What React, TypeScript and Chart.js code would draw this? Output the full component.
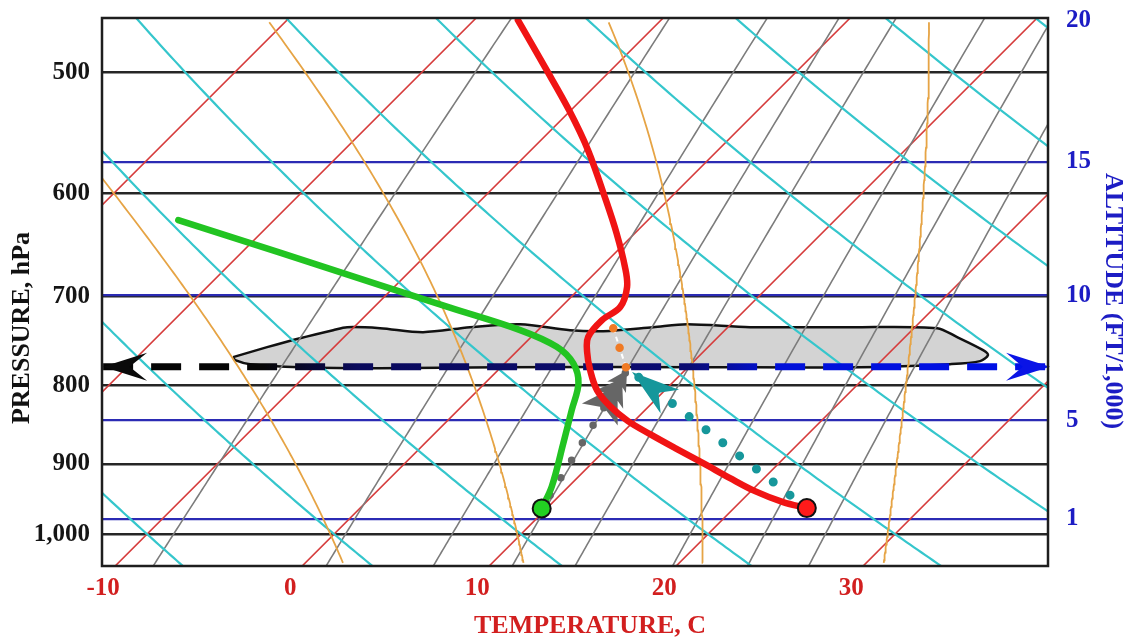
import React, { useEffect, useRef } from 'react';
import { Chart, registerables } from 'chart.js';

Chart.register(...registerables);

// ---------- axis frame ----------
const P_TOP = 461; // hPa at top of plot
const P_BOTTOM = 1049; // hPa at bottom of plot
const SKEW = 35.64; // isotherm skew, deg C per ln(p) unit
const X_MIN = -12.41; // skewed temperature at left edge
const X_MAX = 38.18; // skewed temperature at right edge

const pressureTicks = [500, 600, 700, 800, 900, 1000];
const pressureTickLabels = ['500', '600', '700', '800', '900', '1,000'];
const altitudeTicks = [1, 5, 10, 15, 20];
const altitudePressures = [977, 843, 699, 572, 463];
const temperatureTicks = [-10, 0, 10, 20, 30];

// ---------- background line families ----------
const isotherms = [-40, -30, -20, -10, 0, 10, 20, 30, 40];
const dryAdiabats = [-10, 0, 10, 20, 30, 40, 50, 60, 70, 80];
const moistAdiabats = [-0.2, 9.8, 19.7, 29.6];
const mixingRatios = [2, 4, 6, 8, 10, 14, 18, 22];

// ---------- sounding ----------
const tempP = [961.7, 953.1, 937.5, 919.4, 899.0, 878.9, 860.7, 844.1, 825.3, 805.7, 781.8, 761.0, 744.1, 725.4, 711.3, 690.3, 669.9, 636.6, 605.9, 562.1, 529.3, 496.3, 462.5];
const tempT = [23.89, 22.3, 20.21, 18.18, 15.94, 13.64, 11.55, 9.68, 7.91, 6.36, 4.92, 3.8, 3.05, 2.89, 3.16, 2.46, 1.28, -0.99, -3.32, -6.95, -10.11, -13.69, -17.65];
const dewP = [962.2, 931.5, 872.8, 830.3, 797.6, 774.1, 755.0, 736.3, 711.9, 688.3, 655.6, 624.3];
const dewT = [9.73, 9.11, 7.41, 6.08, 5.01, 3.67, 1.89, -0.96, -5.91, -10.86, -17.94, -25.12];

// ---------- parcel paths ----------
const dryParcelP = [943.2, 784.2];
const dryParcelT = [22.3, 7.27];
const moistureParcelP = [943.2, 781.9];
const moistureParcelT = [9.47, 6.9];
const saturatedParcelP = [778.4, 733.1];
const saturatedParcelT = [6.68, 3.85];

// ---------- cloud layer & base level ----------
const cloudBaseP = 778;
const cloudBaseX = [-12.35, 38.29];
const cloudX = [-5.4, -3.58, -1.82, -0.05, 0.7, 2.46, 4.76, 7.27, 9.95, 12.62, 14.39, 17.06, 18.88, 22.25, 27.59, 32.25, 33.32, 34.71, 34.97, 34.55, 32.94, 28.13, 19.57, 8.88, 2.46, -1.82, -4.49, -5.29];
const cloudP = [766.8, 755.4, 745.3, 736.4, 733.1, 734.2, 738.6, 733.1, 729.8, 736.4, 737.5, 733.1, 729.8, 733.1, 733.1, 734.2, 744.1, 758.8, 764.5, 771.4, 774.9, 778.4, 778.4, 778.4, 779.6, 778.4, 774.9, 770.2];

const FONT = '"Liberation Serif", "Times New Roman", serif';

function skewX(T: number, p: number) {
  return T + SKEW * Math.log(1000 / p);
}
const pt = (T: number, p: number) => ({ x: skewX(T, p), y: p });

function satVap(Tc: number) {
  return 6.112 * Math.exp((17.67 * Tc) / (Tc + 243.5));
}
function moistLapse(p: number, TK: number) {
  const Rd = 287.04, Cp = 1005.7, Lv = 2.501e6, eps = 0.622;
  const e = satVap(TK - 273.15);
  const rs = (eps * e) / (p - e);
  return ((Rd * TK + Lv * rs) / p) / (Cp + (Lv * Lv * rs * eps) / (Rd * TK * TK));
}
function integrateMoist(thetaW: number, pEnd: number) {
  const out: { p: number; T: number }[] = [];
  let p = 1000;
  let T = thetaW + 273.15;
  const h = pEnd < 1000 ? -2 : 2;
  out.push({ p, T });
  while ((h < 0 && p > pEnd) || (h > 0 && p < pEnd)) {
    const k1 = moistLapse(p, T);
    const k2 = moistLapse(p + h / 2, T + (h / 2) * k1);
    const k3 = moistLapse(p + h / 2, T + (h / 2) * k2);
    const k4 = moistLapse(p + h, T + h * k3);
    T += (h / 6) * (k1 + 2 * k2 + 2 * k3 + k4);
    p += h;
    out.push({ p, T });
  }
  return out;
}

type ArrowSpec = { at: 'start' | 'end'; color: string; shape: [number, number][] };
const notched = (len: number, hw: number, notch: number): [number, number][] => [
  [0, 0], [len, hw], [len * notch, 0], [len, -hw],
];
const barbed: [number, number][] = [
  [0, 0], [20, 11], [17, 5], [35, 17], [31, 8], [52, 21], [44, 0],
  [52, -21], [31, -8], [35, -17], [17, -5], [20, -11],
];
const ARROWS: Record<string, ArrowSpec[]> = {
  baseLine: [
    { at: 'start', color: '#0a0a0a', shape: notched(44, 14, 0.6) },
    { at: 'end', color: '#0a14e6', shape: notched(44, 14, 0.62) },
  ],
  dryParcel: [{ at: 'end', color: '#16979b', shape: notched(48, 15, 0.7) }],
  moistureParcel: [{ at: 'end', color: '#666666', shape: barbed }],
};

const overlayPlugin = {
  id: 'overlay',
  afterDatasetDraw(chart: any, args: any) {
    const ds = chart.data.datasets[args.index];
    const specs = ARROWS[ds.label];
    if (!specs) return;
    const pts = args.meta.data;
    if (pts.length < 2) return;
    const ctx = chart.ctx as CanvasRenderingContext2D;
    ctx.save();
    specs.forEach((s) => {
      const tip = s.at === 'start' ? pts[0] : pts[pts.length - 1];
      const from = s.at === 'start' ? pts[1] : pts[pts.length - 2];
      let ux = from.x - tip.x, uy = from.y - tip.y;
      const d = Math.hypot(ux, uy) || 1;
      ux /= d; uy /= d;
      const nx = -uy, ny = ux;
      ctx.beginPath();
      s.shape.forEach(([a, b], k) => {
        const px = tip.x + ux * a + nx * b;
        const py = tip.y + uy * a + ny * b;
        if (k === 0) ctx.moveTo(px, py); else ctx.lineTo(px, py);
      });
      ctx.closePath();
      ctx.fillStyle = s.color;
      ctx.fill();
    });
    ctx.restore();
  },
  afterDatasetsDraw(chart: any) {
    const ctx = chart.ctx as CanvasRenderingContext2D;
    const a = chart.chartArea;
    ctx.save();
    ctx.strokeStyle = '#1e1e1e';
    ctx.lineWidth = 2.5;
    ctx.strokeRect(a.left, a.top, a.right - a.left, a.bottom - a.top);
    ctx.restore();
  },
  afterDraw(chart: any) {
    const ctx = chart.ctx as CanvasRenderingContext2D;
    const titles: [string, number, number, number, string][] = [
      ['PRESSURE, hPa', 22, 328, -Math.PI / 2, '#121212'],
      ['ALTITUDE (FT/1,000)', 1113, 301, Math.PI / 2, '#1c1cc4'],
      ['TEMPERATURE, C', 590, 626, 0, '#d21f1f'],
    ];
    titles.forEach(([text, x, y, rot, color]) => {
      ctx.save();
      ctx.font = `bold 26px ${FONT}`;
      ctx.textAlign = 'center';
      ctx.textBaseline = 'middle';
      ctx.fillStyle = color;
      ctx.translate(x, y);
      ctx.rotate(rot);
      ctx.fillText(text, 0, 0);
      ctx.restore();
    });
  },
};

const zeroPadding = (s: any) => {
  s.paddingTop = 0;
  s.paddingBottom = 0;
  s.paddingLeft = 0;
  s.paddingRight = 0;
};

export default function App() {
  const ref = useRef<HTMLCanvasElement>(null);
  useEffect(() => {
    const sampleLevels: number[] = [];
    for (let p = 1052; p >= 456; p -= 4) sampleLevels.push(p);

    const lineDs = (label: string, data: any[], color: any, width: number, extra: any = {}) => ({
      label, data, borderColor: color, borderWidth: width, pointRadius: 0, fill: false, tension: 0, ...extra,
    });

    const list: any[] = [];
    const cloudData = cloudX.map((x, i) => ({ x, y: cloudP[i] }));
    cloudData.push({ ...cloudData[0] });
    list.push(lineDs('cloud', cloudData, '#111111', 2.5, { fill: 'shape', backgroundColor: '#d3d3d3', tension: 0.3 }));
    isotherms.forEach((T) => list.push(lineDs('isotherm', [pt(T, 1052), pt(T, 456)], '#d63c3c', 1.6)));
    mixingRatios.forEach((w) =>
      list.push(lineDs('mixing', sampleLevels.map((p) => {
        const e = (w * p) / (622 + w);
        const l = Math.log(e / 6.112);
        return pt((243.5 * l) / (17.67 - l), p);
      }), '#7c7c7c', 1.6)));
    dryAdiabats.forEach((th) =>
      list.push(lineDs('dry', sampleLevels.map((p) => pt((th + 273.15) * Math.pow(p / 1000, 0.2857) - 273.15, p)), '#35c6cc', 2.2)));
    moistAdiabats.forEach((tw) => {
      const down = integrateMoist(tw, 1044).reverse();
      const up = integrateMoist(tw, 463).slice(1);
      const data = [...down, ...up].filter((_, i) => i % 2 === 0).map((q) => pt(q.T - 273.15, q.p));
      list.push(lineDs('moist', data, '#e6a445', 1.8));
    });
    list.push(lineDs('baseLine', cloudBaseX.map((x) => ({ x, y: cloudBaseP })), (c: any) => {
      const ch = c.chart;
      const a = ch.chartArea;
      if (!a) return '#000';
      const g = ch.ctx.createLinearGradient(a.left, 0, a.right, 0);
      g.addColorStop(0, '#050505');
      g.addColorStop(0.17, '#050505');
      g.addColorStop(0.27, '#0a0a5c');
      g.addColorStop(0.62, '#0c0c72');
      g.addColorStop(0.71, '#0010d8');
      g.addColorStop(1, '#0010e8');
      return g;
    }, 7, { borderDash: [30, 18] }));
    list.push(lineDs('dryParcel', dryParcelP.map((p, i) => pt(dryParcelT[i], p)), '#16979b', 9, { borderDash: [0, 21.3], borderCapStyle: 'round' }));
    list.push(lineDs('moistureParcel', moistureParcelP.map((p, i) => pt(moistureParcelT[i], p)), '#666666', 7.5, { borderDash: [0, 20.5], borderCapStyle: 'round' }));
    list.push(lineDs('satLine', saturatedParcelP.map((p, i) => pt(saturatedParcelT[i], p)), '#ffffff', 2, { borderDash: [5, 4] }));
    list.push(lineDs('satParcel', saturatedParcelP.map((p, i) => pt(saturatedParcelT[i], p)), '#f07a24', 8.5, { borderDash: [0, 20.5], borderCapStyle: 'round' }));
    list.push(lineDs('dewpoint', dewP.map((p, i) => pt(dewT[i], p)), '#22c422', 6.5, { tension: 0.35, borderCapStyle: 'round', borderJoinStyle: 'round' }));
    list.push(lineDs('temperature', tempP.map((p, i) => pt(tempT[i], p)), '#f01414', 6.5, { tension: 0.35, borderCapStyle: 'round', borderJoinStyle: 'round' }));
    list.push({
      label: 'surface',
      data: [pt(tempT[0], tempP[0]), pt(dewT[0], dewP[0])],
      showLine: false,
      pointRadius: 9,
      pointBorderWidth: 2,
      pointBorderColor: '#111111',
      pointBackgroundColor: ['#ff1a1a', '#22d022'],
    });
    list.forEach((d, i) => { d.order = list.length - i; });

    const tickFont = { family: FONT, size: 25, weight: 'bold' as const };

    const chart = new Chart(ref.current!, {
      type: 'line',
      data: { datasets: list },
      plugins: [overlayPlugin],
      options: {
        responsive: false,
        animation: false,
        devicePixelRatio: 1,
        events: [],
        layout: { padding: { top: 18, left: 0, right: 0, bottom: 0 } },
        plugins: { legend: { display: false }, tooltip: { enabled: false } },
        scales: {
          x: {
            type: 'linear',
            position: 'bottom',
            min: X_MIN,
            max: X_MAX,
            grid: { display: false, drawTicks: false },
            border: { display: false },
            afterBuildTicks: (s: any) => { s.ticks = temperatureTicks.map((t) => ({ value: skewX(t, P_BOTTOM) })); },
            afterFit: (s: any) => { s.height = 73; zeroPadding(s); },
            ticks: {
              autoSkip: false, maxRotation: 0, padding: 8, labelOffset: -12, color: '#d21f1f', font: tickFont,
              callback: (_v: any, i: number) => String(temperatureTicks[i]),
            },
          },
          y: {
            type: 'logarithmic',
            position: 'left',
            reverse: true,
            min: P_TOP,
            max: P_BOTTOM,
            grid: { color: '#262626', lineWidth: 2.5, drawTicks: false },
            border: { display: false },
            afterBuildTicks: (s: any) => { s.ticks = pressureTicks.map((v) => ({ value: v })); },
            afterFit: (s: any) => { s.width = 102; zeroPadding(s); },
            ticks: {
              autoSkip: false, padding: 12, color: '#151515', font: tickFont,
              callback: (_v: any, i: number) => pressureTickLabels[i],
            },
          },
          y2: {
            type: 'logarithmic',
            position: 'right',
            reverse: true,
            min: P_TOP,
            max: P_BOTTOM,
            grid: {
              color: (c: any) => (c.tick && c.tick.value === 463 ? 'rgba(0,0,0,0)' : '#2b2bb4'),
              lineWidth: 2.2,
              drawTicks: false,
            },
            border: { display: false },
            afterBuildTicks: (s: any) => { s.ticks = altitudePressures.map((v) => ({ value: v })); },
            afterFit: (s: any) => { s.width = 83; zeroPadding(s); },
            ticks: {
              autoSkip: false, padding: 18, color: '#1c1cc4', font: tickFont,
              callback: (_v: any, i: number) => String(altitudeTicks[i]),
            },
          },
        },
      } as any,
    });
    return () => chart.destroy();
  }, []);

  return (
    <div style={{ position: 'fixed', left: 0, top: 0, width: 1131, height: 639, background: '#ffffff' }}>
      <canvas ref={ref} width={1131} height={639} style={{ display: 'block' }} />
    </div>
  );
}
